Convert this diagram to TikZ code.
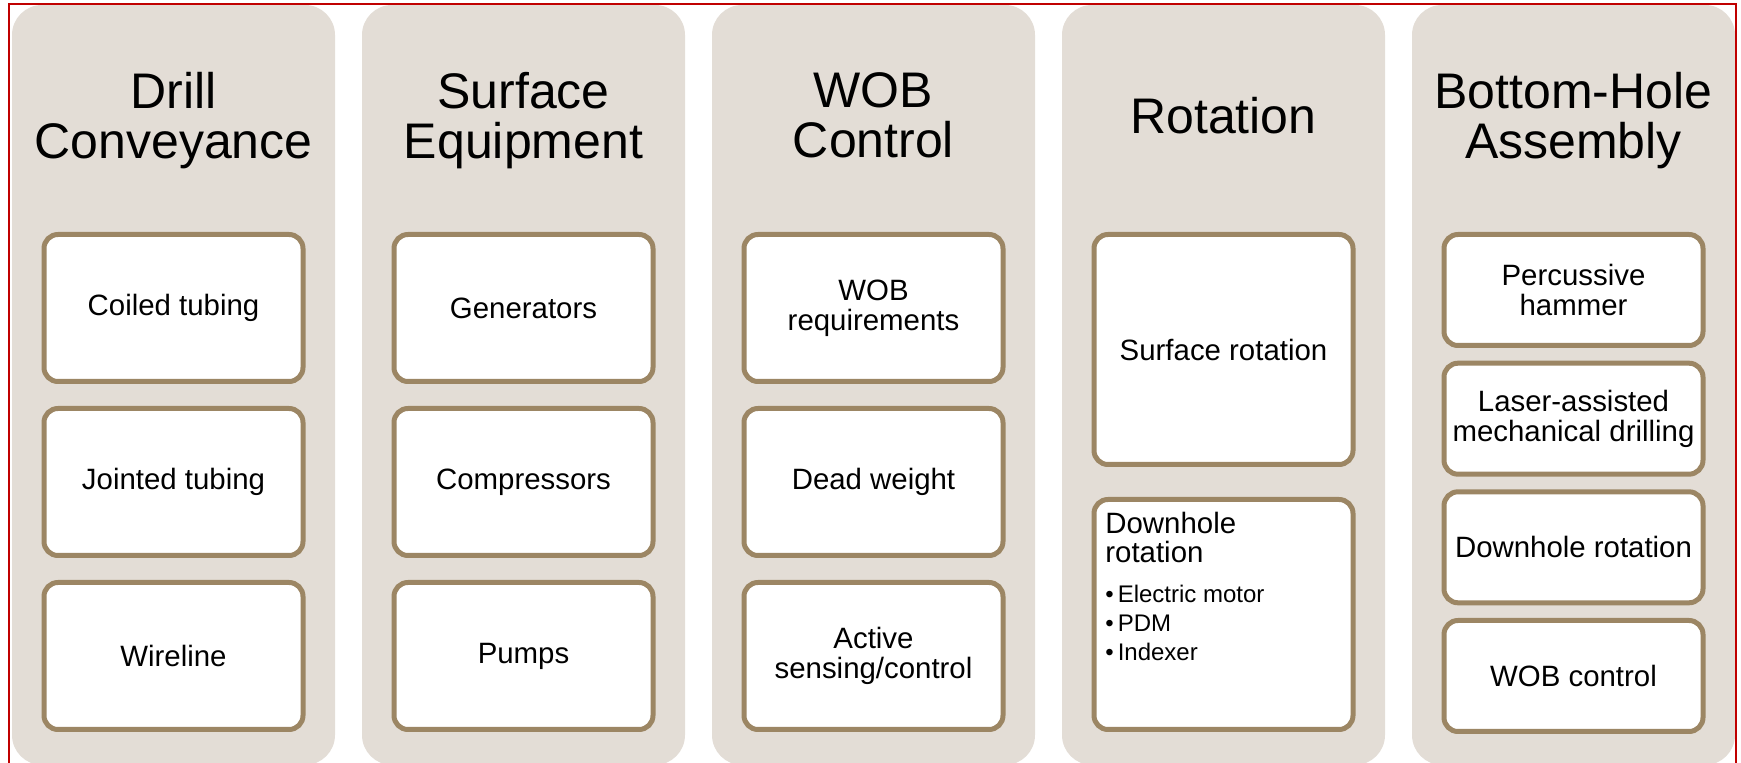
\documentclass[tikz,border=0pt]{standalone}
\usepackage{fontspec}
\setmainfont{Liberation Sans}
\usepackage{xcolor}
\usetikzlibrary{calc}
\definecolor{frame}{HTML}{C00000}
\definecolor{colbg}{HTML}{E3DDD6}
\definecolor{tan}{HTML}{9C8664}
\definecolor{ink}{HTML}{000000}
\tikzset{
  column/.style={fill=colbg, draw=none, rounded corners=15pt, inner sep=0pt,
    minimum width=161.5pt, minimum height=380pt},
  title/.style={text=ink, align=center, inner sep=0pt, anchor=north,
    font=\fontsize{25}{25}\selectfont},
  item/.style={draw=tan, line width=2.5pt, fill=white, rounded corners=7pt,
    inner sep=0pt, minimum width=129.5pt, minimum height=73.5pt, align=center,
    text=ink, font=\fontsize{14.7}{15.2}\selectfont},
  tallitem/.style={item, minimum height=115pt},
  smallitem/.style={item, minimum height=55.5pt},
  lab/.style={text=ink, align=left, inner sep=0pt, anchor=north west,
    font=\fontsize{12}{14.5}\selectfont},
  border/.style={draw=frame, line width=1pt}
}
\begin{document}
\begin{tikzpicture}[x=0.5pt, y=-0.5pt]
  \clip (0,0) rectangle (1741,763);

  % five columns
  \node[column] (col1) at (173.5,385) {};
  \node[column] (col2) at (523.5,385) {};
  \node[column] (col3) at (873.5,385) {};
  \node[column] (col4) at (1223.5,385) {};
  \node[column] (col5) at (1573.5,385) {};

  % headings
  \node[title] (t1) at (173.5,72) {Drill\\Conveyance};
  \node[title] (t2) at (523.5,72) {Surface\\Equipment};
  \node[title] (t3) at (873.5,72) {WOB\\Control};
  \node[title] (t4) at (1223.5,97) {Rotation};
  \node[title] (t5) at (1573.5,72) {Bottom-Hole\\Assembly};

  % Drill Conveyance
  \node[item] (dc1) at (173.5,308) {Coiled tubing};
  \node[item] (dc2) at (173.5,482) {Jointed tubing};
  \node[item] (dc3) at (173.5,656) {Wireline};

  % Surface Equipment
  \node[item] (se1) at (523.5,308) {Generators};
  \node[item] (se2) at (523.5,482) {Compressors};
  \node[item] (se3) at (523.5,656) {Pumps};

  % WOB Control
  \node[item] (wob1) at (873.5,308) {WOB\\requirements};
  \node[item] (wob2) at (873.5,482) {Dead weight};
  \node[item] (wob3) at (873.5,656) {Active\\sensing/control};

  % Rotation
  \node[tallitem] (rot1) at (1223.5,349.5) {Surface rotation};
  \node[tallitem] (rot2) at (1223.5,614.5) {};
  \node[lab] (rot2txt) at ($(rot2.north west)+(13.5,15)$)
    {{\fontsize{14.7}{14.5}\selectfont Downhole}\\
     {\fontsize{14.7}{14.5}\selectfont rotation}\\[5.5pt]
     \textbullet\,Electric motor\\
     \textbullet\,PDM\\
     \textbullet\,Indexer};

  % Bottom-Hole Assembly
  \node[smallitem] (bha1) at (1573.5,290) {Percussive\\hammer};
  \node[smallitem] (bha2) at (1573.5,418.7) {Laser-assisted\\mechanical drilling};
  \node[smallitem] (bha3) at (1573.5,547.3) {Downhole rotation};
  \node[smallitem] (bha4) at (1573.5,676) {WOB control};

  % outer frame
  \draw[border] (9,780) -- (9,4.5) -- (1736,4.5) -- (1736,780);
\end{tikzpicture}
\end{document}
